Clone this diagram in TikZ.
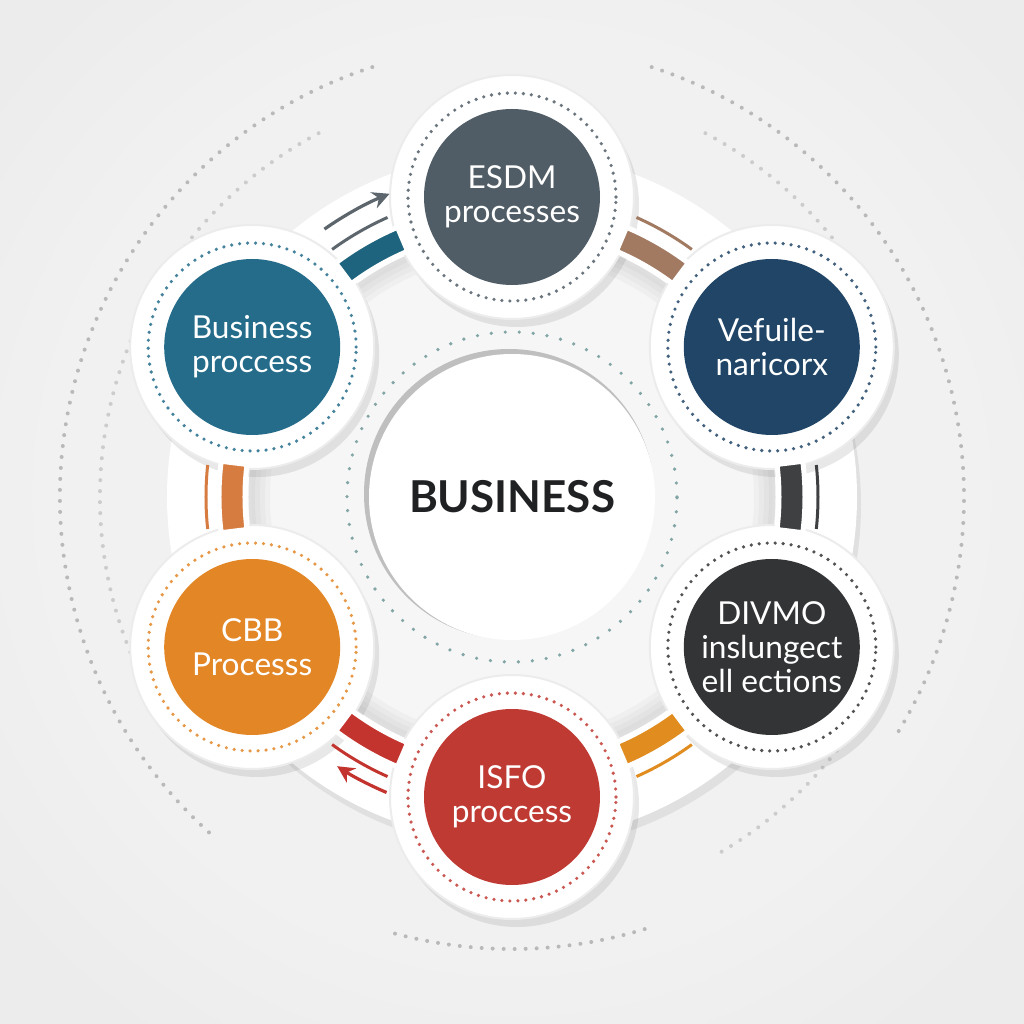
\documentclass[tikz,border=0pt]{standalone}
\usepackage{fontspec}
\setmainfont{Lato}
\usepackage{tikz}
\usetikzlibrary{arrows.meta, shadows}
\definecolor{bggray}{RGB}{236,236,236}
\definecolor{titleblack}{RGB}{32,33,35}
\definecolor{esdmgray}{RGB}{80,93,102}
\definecolor{busteal}{RGB}{36,108,138}
\definecolor{vefblue}{RGB}{32,69,102}
\definecolor{divdark}{RGB}{50,52,54}
\definecolor{isfored}{RGB}{192,58,52}
\definecolor{cbborange}{RGB}{226,134,38}
\definecolor{segteal}{RGB}{30,100,126}
\definecolor{seggray}{RGB}{92,102,108}
\definecolor{segbrown}{RGB}{162,122,98}
\definecolor{segdark}{RGB}{62,64,66}
\definecolor{segorange}{RGB}{224,140,30}
\definecolor{segred}{RGB}{196,52,46}
\definecolor{segleft}{RGB}{214,124,64}
\definecolor{dotteal}{RGB}{130,165,165}

\begin{document}
\begin{tikzpicture}[x=0.1mm, y=0.1mm,
  plate/.style={fill=white, draw=gray!15, line width=0.2mm,
    drop shadow={opacity=0.18, shadow xshift=0.5mm, shadow yshift=-0.8mm}},
  sat/.style={circle, minimum size=17.6mm, inner sep=0pt, text=white,
    align=center, font=\fontsize{9}{9.6}\selectfont},
  dotring/.style={line width=0.36mm, line cap=round, dash pattern=on 0pt off 0.8mm},
  faint/.style={gray!55, line width=0.4mm, line cap=round, dash pattern=on 0pt off 1.1mm},
  seg/.style={line width=0.5mm, draw=white},
  flow/.style={line width=0.32mm, -{Stealth[length=1.7mm, width=1.7mm]}}]

% Frame and soft background
\useasboundingbox (-512,-527) rectangle (512,497);
\fill[bggray] (-512,-527) rectangle (512,497);
\foreach \r in {640,600,...,320}
  \fill[white, opacity=0.07] (0,0) circle (\r);

% Outer dotted guides
\draw[faint] (108:452) arc[start angle=108, end angle=228, radius=452];
\draw[faint] (255:452) arc[start angle=255, end angle=288, radius=452];
\draw[faint] (72:452) arc[start angle=72, end angle=-32, radius=452];
\draw[faint, gray!40] (118:412) arc[start angle=118, end angle=205, radius=412];
\draw[faint, gray!40] (62:412) arc[start angle=62, end angle=38, radius=412];
\draw[faint, gray!40] (-38:412) arc[start angle=-38, end angle=-60, radius=412];

% Ring track
\fill[white, drop shadow={opacity=0.15, shadow xshift=0.4mm, shadow yshift=-0.8mm}]
  (0,0) circle (345);
\fill[gray!7] (0,0) circle (262);
\begin{scope}
  \clip (0,0) circle (262);
  \foreach \w in {1,2,3,4}
    \draw[gray, opacity=0.05, line width=\w mm] (0,0) circle (262);
\end{scope}
\draw[gray!25, line width=0.3mm] (0,0) circle (262);

% Center
\draw[dotring, dotteal, dash pattern=on 0pt off 1.4mm] (0,0) circle (165);
\fill[gray!50] (-3,3) circle (145);
\node[circle, fill=white, minimum size=28.6mm, text=titleblack,
  font=\fontsize{12.5}{14}\selectfont\bfseries] (core) at (0,0) {BUSINESS};

% Satellites
\foreach \ang/\id/\col/\txt in {
    90/esdm/esdmgray/{ESDM\\processes},
    150/bproc/busteal/{Business\\proccess},
    30/vef/vefblue/{Vefuile-\\naricorx},
    210/cbb/cbborange/{CBB\\Processs},
    330/divmo/divdark/{DIVMO\\inslungect\\ell ections},
    270/isfo/isfored/{ISFO\\proccess}} {
  \fill[plate] (\ang:300) circle (122);
  \node[sat, fill=\col] (\id) at (\ang:300) {\txt};
  \draw[dotring, \col!85] (\id) circle (104);
}

% Ring segments between the satellites
\foreach \a/\col/\thin in {120/segteal/seggray, 60/segbrown/segbrown,
    0/segdark/segdark, 300/segorange/segorange, 240/segred/segred,
    180/segleft/segleft} {
  \filldraw[seg, fill=\col] (\a-7:267) arc[start angle=\a-7, end angle=\a+7, radius=267]
    -- (\a+7:293) arc[start angle=\a+7, end angle=\a-7, radius=293] -- cycle;
  \draw[\thin, line width=0.3mm] (\a-6:306) arc[start angle=\a-6, end angle=\a+6, radius=306];
}

% Flow arrows
\draw[flow, seggray] (125:327) arc[start angle=125, end angle=112, radius=327];
\draw[flow, segred] (247:321) arc[start angle=247, end angle=237, radius=321];
\end{tikzpicture}
\end{document}
